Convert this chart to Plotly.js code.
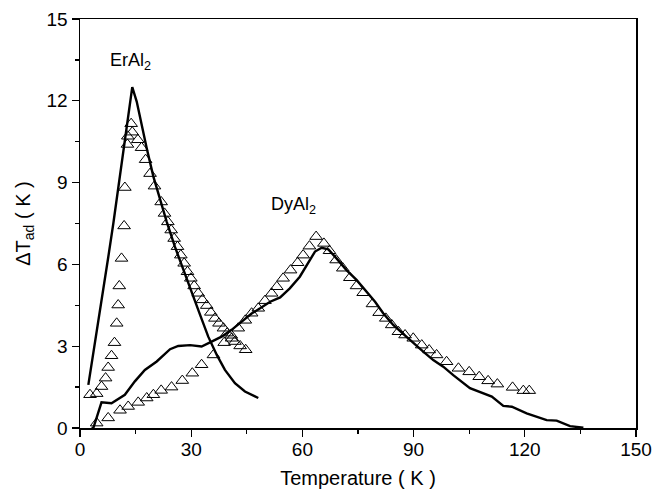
<!DOCTYPE html>
<html>
<head>
<meta charset="utf-8">
<script src="https://cdn.plot.ly/plotly-3.0.1.min.js"></script>
<style>html,body{margin:0;padding:0;background:#fff;}#chart{width:653px;height:489px;}</style>
</head>
<body>
<div id="chart"></div>
<script>
// ErAl2 calculated curve (solid line)
const erLineT = [2.25,3.6,4.95,6.3,7.64,9.0,10.34,11.7,12.86,14.1,15.3,16.6,18.0,19.8,21.6,23.4,25.6,27.9,30.1,32.4,34.6,36.9,39.1,41.8,44.5,48.1];
const erLineV = [1.58,2.74,3.84,5.06,6.28,7.51,8.85,10.2,11.42,12.5,11.97,11.1,10.26,9.22,8.36,7.56,6.65,5.79,4.94,4.15,3.35,2.68,2.13,1.64,1.34,1.1];

// ErAl2 measured (triangles)
const erPtsT = [2.7,4.5,5.8,6.9,7.6,8.5,9.3,9.9,10.3,10.6,11.2,11.9,12.1,12.8,12.9,13.8,14.1,15.6,16.6,17.7,18.9,20.1,21.9,22.8,23.7,24.6,25.4,26.3,27.2,28.1,29.0,29.9,30.8,31.9,33.0,34.2,35.3,36.4,37.5,38.7,39.7,40.9,41.8,43.2,44.7];
const erPtsV = [1.22,1.26,1.52,1.83,2.22,2.65,3.13,3.84,4.51,5.21,6.22,7.41,8.82,10.4,10.7,11.16,10.85,10.57,10.28,9.84,9.33,8.87,8.29,7.87,7.56,7.26,6.95,6.65,6.34,6.04,5.73,5.49,5.21,4.94,4.70,4.49,4.24,4.02,3.84,3.66,3.48,3.29,3.17,3.01,2.87];

// DyAl2 calculated curve (solid line)
const dyLineT = [3.1,3.6,5.8,8.5,12.1,14.8,17.5,20.7,24.3,26.5,29.7,32.8,35.5,38.2,40.9,43.6,46.3,48.6,51.3,54.0,56.6,59.3,61.6,63.4,65.2,67.0,69.2,71.9,74.6,77.3,79.6,81.8,84.5,87.2,89.9,92.6,95.3,98.0,100.7,105.2,111.1,114.2,116.5,120.5,125.9,128.6,132.2,135.8];
const dyLineV = [0.0,0.0,0.94,0.91,1.22,1.71,2.13,2.44,2.89,3.01,3.04,2.99,3.17,3.35,3.6,3.9,4.2,4.39,4.63,4.79,5.12,5.55,6.04,6.47,6.61,6.55,6.22,5.79,5.43,5.0,4.63,4.21,3.78,3.45,3.11,2.80,2.49,2.25,1.94,1.46,1.15,0.81,0.78,0.54,0.29,0.27,0.07,0.01];

// DyAl2 measured (triangles)
const dyPtsT = [4.5,7.6,10.8,13.0,15.7,18.0,19.8,21.9,24.7,27.6,30.3,32.8,36.0,38.9,40.8,42.7,44.6,46.3,48.1,49.9,51.7,53.1,54.8,56.8,58.7,60.2,61.9,63.7,65.8,67.3,69.1,70.9,72.8,74.6,76.4,78.9,80.7,82.5,84.1,85.9,87.7,89.9,92.2,94.2,96.2,98.9,102.1,105.0,107.7,110.1,112.6,116.7,119.6,121.2];
const dyPtsV = [0.18,0.37,0.65,0.79,0.94,1.10,1.22,1.38,1.5,1.74,2.01,2.32,2.68,3.13,3.4,3.66,3.95,4.21,4.39,4.67,4.94,5.18,5.49,5.79,6.06,6.34,6.67,7.02,6.77,6.5,6.16,5.86,5.51,5.21,4.96,4.55,4.23,4.02,3.78,3.53,3.41,3.29,3.04,2.86,2.68,2.43,2.19,2.06,1.88,1.73,1.61,1.49,1.37,1.37];

const xTickVals = [0,30,60,90,120,150];
const yTickVals = [0,3,6,9,12,15];

const fontFam = 'Liberation Sans, Arial, Helvetica, sans-serif';

const lineStyle = {color:'#000', width:2.4};
const markerStyle = {symbol:'triangle-up-open', size:11, color:'#000', line:{width:1}};

const traces = [
  {x: erLineT, y: erLineV, mode:'lines', line: lineStyle},
  {x: erPtsT, y: erPtsV, mode:'markers', marker: markerStyle},
  {x: dyLineT, y: dyLineV, mode:'lines', line: lineStyle},
  {x: dyPtsT, y: dyPtsV, mode:'markers', marker: markerStyle}
];

const axisCommon = {
  showgrid:false, zeroline:false, showline:true, linecolor:'#000', linewidth:1.5,
  mirror:true, ticks:'outside', ticklen:7, tickwidth:1.3, tickcolor:'#000',
  tickfont:{family:fontFam, size:19, color:'#000'}
};

const layout = {
  width:653, height:489,
  margin:{l:80, r:17, t:19, b:61},
  paper_bgcolor:'#fff', plot_bgcolor:'#fff',
  showlegend:false,
  font:{family:fontFam, color:'#000'},
  xaxis: Object.assign({}, axisCommon, {
    range:[0,150], tickvals: xTickVals, ticktext: xTickVals.map(String),
    ticklabelstandoff:-3,
    minor:{dtick:15, tick0:0, ticks:'outside', ticklen:4, tickwidth:1.3, tickcolor:'#000', showgrid:false},
    title:{text:'Temperature ( K )', font:{family:fontFam, size:20, color:'#000'}, standoff:11}
  }),
  yaxis: Object.assign({}, axisCommon, {
    range:[0,15], tickvals: yTickVals, ticktext: yTickVals.map(String),
    minor:{dtick:1.5, tick0:0, ticks:'outside', ticklen:4, tickwidth:1.3, tickcolor:'#000', showgrid:false},
    title:{text:'ΔT<sub>ad</sub> ( K )', font:{family:fontFam, size:20, color:'#000'}, standoff:10}
  }),
  annotations:[
    {x:13.5, y:13.45, xref:'x', yref:'y', text:'ErAl<sub>2</sub>', showarrow:false, font:{family:fontFam, size:18, color:'#000'}},
    {x:57.5, y:8.15, xref:'x', yref:'y', text:'DyAl<sub>2</sub>', showarrow:false, font:{family:fontFam, size:18, color:'#000'}}
  ]
};

Plotly.newPlot('chart', traces, layout, {displayModeBar:false, staticPlot:true});
</script>
</body>
</html>
